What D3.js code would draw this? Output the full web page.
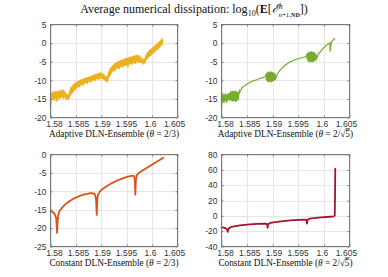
<!DOCTYPE html>
<html><head><meta charset="utf-8">
<script src="https://cdn.jsdelivr.net/npm/d3@7"></script>
<style>
html,body{margin:0;padding:0;background:#fff;}
svg{display:block;}
</style></head>
<body>
<script>
// ---------------- DATA ----------------
const xTicks = [1.58, 1.585, 1.59, 1.595, 1.6, 1.605];
const xTickLabels = ["1.58", "1.585", "1.59", "1.595", "1.6", "1.605"];
const yTicksTop = [5, 0, -5, -10, -15, -20];
const yTicksBL = [0, -5, -10, -15, -20, -25];
const yTicksBR = [80, 60, 40, 20, 0, -20, -40];

// rows: [x, high, low] for noisy spans, [x, y] for smooth spans
const adaptive23 = [
 [1.58000,-13.4,-17.3],[1.58025,-13.6,-15.2],[1.58050,-13.0,-14.8],[1.58075,-13.3,-15.4],
 [1.58100,-12.9,-14.9],[1.58125,-13.2,-15.6],[1.58150,-13.0,-14.7],[1.58175,-12.8,-15.1],
 [1.58200,-13.1,-14.6],[1.58225,-12.5,-14.4],[1.58250,-12.7,-14.9],[1.58275,-13.0,-14.5],
 [1.58300,-13.4,-15.0],[1.58325,-13.9,-14.9],[1.58350,-14.0,-15.2],[1.58375,-13.0,-14.6],
 [1.58400,-12.0,-13.9],[1.58425,-11.6,-13.4],[1.58450,-11.2,-12.9],[1.58475,-10.9,-12.6],
 [1.58500,-10.6,-12.2],[1.58525,-10.4,-11.9],[1.58550,-10.3,-11.6],[1.58575,-10.1,-11.8],
 [1.58600,-9.9,-11.2],[1.58625,-9.8,-11.0],[1.58650,-9.6,-11.3],[1.58675,-9.5,-10.7],
 [1.58700,-9.4,-10.6],[1.58725,-9.3,-10.9],[1.58750,-9.2,-10.4],[1.58775,-9.1,-10.2],
 [1.58800,-8.9,-10.5],[1.58825,-8.8,-10.0],[1.58850,-8.7,-9.8],[1.58875,-8.5,-10.1],
 [1.58900,-8.4,-9.6],[1.58925,-8.3,-9.5],[1.58950,-8.2,-9.8],[1.58975,-8.0,-9.4],
 [1.59000,-8.1,-9.3],[1.59025,-8.3,-9.6],[1.59050,-8.5,-9.7],[1.59075,-8.9,-10.0],
 [1.59100,-9.2,-10.4],[1.59125,-8.6,-10.2],[1.59150,-7.6,-9.1],[1.59175,-6.9,-8.6],
 [1.59200,-6.5,-8.0],[1.59225,-6.1,-7.6],[1.59250,-5.8,-7.2],[1.59275,-5.5,-7.4],
 [1.59300,-5.3,-6.8],[1.59325,-5.1,-6.6],[1.59350,-4.9,-6.9],[1.59375,-4.7,-6.3],
 [1.59400,-4.6,-6.2],[1.59425,-4.5,-6.5],[1.59450,-4.3,-5.9],[1.59475,-4.2,-6.0],
 [1.59500,-4.1,-5.8],[1.59525,-4.0,-6.4],[1.59550,-3.9,-5.6],[1.59575,-3.8,-5.5],
 [1.59600,-3.7,-5.7],[1.59625,-3.6,-5.3],[1.59650,-3.5,-5.2],[1.59675,-3.4,-5.5],
 [1.59700,-3.4,-5.0],[1.59725,-3.3,-4.9],[1.59750,-3.5,-5.2],[1.59775,-3.8,-5.1],
 [1.59800,-4.1,-5.3],[1.59825,-4.4,-5.6],[1.59850,-4.3,-5.4],[1.59875,-3.4,-4.8],
 [1.59900,-2.7,-4.2],[1.59925,-2.3,-3.8],[1.59950,-2.0,-3.5],[1.59975,-1.7,-3.3],
 [1.60000,-1.4,-2.9],[1.60025,-1.1,-2.7],[1.60050,-0.8,-2.2],[1.60075,-0.5,-2.0],
 [1.60100,-0.2,-1.7],[1.60125,0.1,-1.4],[1.60150,0.4,-1.0],[1.60175,0.8,-0.6],
 [1.60200,1.2,-0.3]
];

const adaptiveSqrt5 = [
 [1.58000,-13.8,-17.2],[1.58025,-13.5,-15.8],[1.58050,-14.0,-16.0],[1.58075,-13.6,-15.5],
 [1.58100,-13.9,-15.9],[1.58125,-13.7,-15.4],[1.58150,-13.5,-15.2],[1.58175,-13.2,-15.3],
 [1.58200,-13.0,-15.5],[1.58225,-12.9,-15.6],[1.58250,-13.0,-15.4],[1.58275,-12.9,-15.7],
 [1.58300,-13.1,-15.5],[1.58325,-13.3,-15.3],[1.58350,-12.6,-13.4],
 [1.5840,-12.0],[1.5845,-11.5],[1.5850,-11.0],[1.5855,-10.6],[1.5860,-10.3],[1.5865,-10.0],
 [1.5870,-9.8],[1.5875,-9.5],[1.5880,-9.3],[1.5885,-9.1],
 [1.58875,-8.2,-9.9],[1.58900,-7.9,-10.3],[1.58925,-7.8,-10.4],[1.58950,-7.7,-10.3],
 [1.58975,-7.8,-10.4],[1.59000,-7.9,-10.2],[1.59025,-8.0,-10.0],[1.59050,-8.3,-9.8],
 [1.5910,-8.0],[1.5915,-7.2],[1.5920,-6.5],[1.5925,-5.9],[1.5930,-5.4],[1.5935,-5.0],
 [1.5940,-4.7],[1.5945,-4.4],[1.5950,-4.2],[1.5955,-4.0],[1.5960,-3.8],[1.5965,-3.7],
 [1.59675,-2.8,-4.5],[1.59700,-2.5,-4.9],[1.59725,-2.4,-5.0],[1.59750,-2.3,-5.0],
 [1.59775,-2.4,-5.0],[1.59800,-2.5,-4.9],[1.59825,-2.7,-4.7],[1.59850,-3.0,-4.4],
 [1.5990,-2.8],[1.5995,-2.0],[1.6000,-1.2],[1.6005,-0.6],[1.6010,-0.1],
 [1.6012,0.1,-2.2],[1.6015,0.4],[1.6020,1.1],[1.6021,1.3]
];

const constant23 = [
 [1.5800,-15.4],[1.5804,-15.6],[1.5808,-16.1],[1.5811,-17.2],[1.5812,-18.8],[1.5813,-21.3],
 [1.5814,-18.5],[1.5815,-16.6],[1.5818,-15.3],[1.5822,-14.6],[1.5828,-13.7],[1.5835,-12.9],
 [1.5845,-12.0],[1.5855,-11.4],[1.5865,-10.9],[1.5875,-10.6],[1.5882,-10.5],[1.5887,-10.7],
 [1.5889,-11.6],[1.5890,-13.0],[1.5891,-16.4],[1.5892,-13.0],[1.5893,-11.2],[1.5897,-10.1],
 [1.5903,-9.3],[1.5912,-8.5],[1.5922,-7.7],[1.5932,-7.0],[1.5942,-6.5],[1.5952,-6.0],
 [1.5960,-5.8],[1.5964,-5.8],[1.5966,-6.8],[1.5967,-10.9],[1.5968,-7.0],[1.5970,-5.6],
 [1.5975,-4.9],[1.5985,-4.0],[1.5995,-3.2],[1.6005,-2.3],[1.6015,-1.5],[1.6022,-0.9]
];

const constantSqrt5 = [
 [1.5800,-15.0],[1.5804,-15.3],[1.5808,-16.0],[1.5811,-17.5],[1.5812,-21.0],[1.5813,-18.0],
 [1.5815,-16.0],[1.5820,-14.3],[1.5830,-13.0],[1.5840,-12.2],[1.5855,-11.2],[1.5870,-10.6],
 [1.5885,-10.2],[1.5889,-10.6],[1.5890,-15.6],[1.5891,-11.0],[1.5895,-9.2],[1.5905,-8.3],
 [1.5920,-7.0],[1.5935,-6.0],[1.5950,-5.3],[1.5963,-4.9],[1.5966,-5.6],[1.5967,-10.0],
 [1.5968,-5.4],[1.5972,-3.6],[1.5985,-2.6],[1.6000,-1.8],[1.6012,-1.2],[1.6019,-0.8],
 [1.60212,0.5],[1.60218,30.0],[1.60222,61.5]
];

// ---------------- DRAW ----------------
const W = 388, H = 277;
const svg = d3.select("body").append("svg").attr("width", W).attr("height", H);
const sansFont = "'Liberation Sans', Arial, Helvetica, sans-serif";
const serifFont = "'Liberation Serif', 'Times New Roman', serif";

function rowsToPoints(rows) {
  const pts = [];
  rows.forEach(r => {
    pts.push([r[0], r[1]]);
    if (r.length > 2) pts.push([r[0], r[2]]);
  });
  return pts;
}

function drawPanel(cfg) {
  const g = svg.append("g");
  const x = d3.scaleLinear().domain([1.58, 1.605]).range([cfg.x0, cfg.x1]);
  const y = d3.scaleLinear().domain(cfg.yDomain).range([cfg.y1, cfg.y0]);

  // grid
  g.append("g").selectAll("line.gx").data(xTicks).join("line")
    .attr("x1", d => Math.round(x(d)) + 0.5).attr("x2", d => Math.round(x(d)) + 0.5)
    .attr("y1", cfg.y0).attr("y2", cfg.y1)
    .attr("stroke", "#e6e6e6").attr("stroke-width", 1);
  g.append("g").selectAll("line.gy").data(cfg.yTicks).join("line")
    .attr("y1", d => Math.round(y(d)) + 0.5).attr("y2", d => Math.round(y(d)) + 0.5)
    .attr("x1", cfg.x0).attr("x2", cfg.x1)
    .attr("stroke", "#e6e6e6").attr("stroke-width", 1);

  // data
  const line = d3.line().x(d => x(d[0])).y(d => y(d[1]));
  g.append("path").datum(rowsToPoints(cfg.data))
    .attr("d", line).attr("fill", "none")
    .attr("stroke", cfg.color).attr("stroke-width", cfg.lw)
    .attr("stroke-linejoin", "round").attr("stroke-linecap", "round");

  // axes
  const styleAxis = (sel) => {
    sel.select(".domain").remove();
    sel.selectAll(".tick line").attr("stroke", "#7a7a7a");
    sel.selectAll(".tick text").attr("fill", "#333").style("font-family", sansFont).style("font-size", "8.5px");
  };
  const cx = (cfg.x0 + cfg.x1) / 2;
  const bottomAxis = g.append("g").attr("transform", `translate(0,${cfg.y1})`)
    .call(d3.axisBottom(x).tickValues(xTicks).tickFormat((d, i) => xTickLabels[i]).tickSizeInner(-2).tickSizeOuter(0).tickPadding(3))
    .call(styleAxis);
  // labels sit slightly inward, as in the reference rendering
  bottomAxis.selectAll(".tick text").attr("dx", d => (cx - x(d)) * 0.055);
  g.append("g").attr("transform", `translate(0,${cfg.y0})`)
    .call(d3.axisTop(x).tickValues(xTicks).tickFormat("").tickSizeInner(-2).tickSizeOuter(0))
    .call(styleAxis);
  g.append("g").attr("transform", `translate(${cfg.x0},0)`)
    .call(d3.axisLeft(y).tickValues(cfg.yTicks).tickFormat(d => String(d)).tickSizeInner(-2).tickSizeOuter(0).tickPadding(4))
    .call(styleAxis);
  g.append("g").attr("transform", `translate(${cfg.x1},0)`)
    .call(d3.axisRight(y).tickValues(cfg.yTicks).tickFormat("").tickSizeInner(-2).tickSizeOuter(0))
    .call(styleAxis);
  g.append("rect").attr("x", cfg.x0).attr("y", cfg.y0)
    .attr("width", cfg.x1 - cfg.x0).attr("height", cfg.y1 - cfg.y0)
    .attr("fill", "none").attr("stroke", "#7a7a7a").attr("stroke-width", 1);

  // xlabel
  const t = g.append("text").attr("x", cx).attr("y", cfg.labelY)
    .attr("text-anchor", "middle").style("font-family", serifFont).style("font-size", "9.3px").attr("fill", "#111");
  t.append("tspan").text(cfg.label + " (");
  t.append("tspan").style("font-style", "italic").text("θ");
  t.append("tspan").text(" = 2/");
  if (cfg.sqrt) {
    t.append("tspan").text("√");
    t.append("tspan").style("text-decoration", "overline").text("5");
  } else {
    t.append("tspan").text("3");
  }
  t.append("tspan").text(")");
}

drawPanel({x0: 50.5, x1: 177.5, y0: 24.5, y1: 117.5, yDomain: [-20, 5], yTicks: yTicksTop,
  data: adaptive23, color: "#EDB120", lw: 1.4, label: "Adaptive DLN-Ensemble", labelY: 136.5, sqrt: false});
drawPanel({x0: 221.5, x1: 349.5, y0: 24.5, y1: 117.5, yDomain: [-20, 5], yTicks: yTicksTop,
  data: adaptiveSqrt5, color: "#77AC30", lw: 1.2, label: "Adaptive DLN-Ensemble", labelY: 136.5, sqrt: true});
drawPanel({x0: 50.5, x1: 177.5, y0: 154.5, y1: 246.5, yDomain: [-25, 0], yTicks: yTicksBL,
  data: constant23, color: "#D95319", lw: 1.8, label: "Constant DLN-Ensemble", labelY: 265.5, sqrt: false});
drawPanel({x0: 221.5, x1: 349.5, y0: 154.5, y1: 246.5, yDomain: [-40, 80], yTicks: yTicksBR,
  data: constantSqrt5, color: "#A2142F", lw: 1.8, label: "Constant DLN-Ensemble", labelY: 265.5, sqrt: true});

// title
const title = svg.append("text").attr("x", 194).attr("y", 13).attr("text-anchor", "middle")
  .style("font-family", serifFont).style("font-size", "12px").attr("fill", "#111");
title.append("tspan").text("Average numerical dissipation:  log");
title.append("tspan").attr("dy", 2.5).style("font-size", "8px").text("10");
title.append("tspan").attr("dy", -2.5).text("(");
title.append("tspan").style("font-weight", "bold").text("E");
title.append("tspan").text("[");
title.append("tspan").style("font-style", "italic").text("ℰ");
title.append("tspan").attr("dy", -4).style("font-size", "7.5px").style("font-style", "italic").text("h");
title.append("tspan").attr("dx", -4).attr("dy", 7.5).style("font-size", "7px").style("font-style", "italic").text("n");
title.append("tspan").style("font-size", "7px").text("+1,");
title.append("tspan").style("font-size", "6px").style("font-weight", "bold").text("ND");
title.append("tspan").attr("dy", -3.5).text("])");
</script>
</body></html>
